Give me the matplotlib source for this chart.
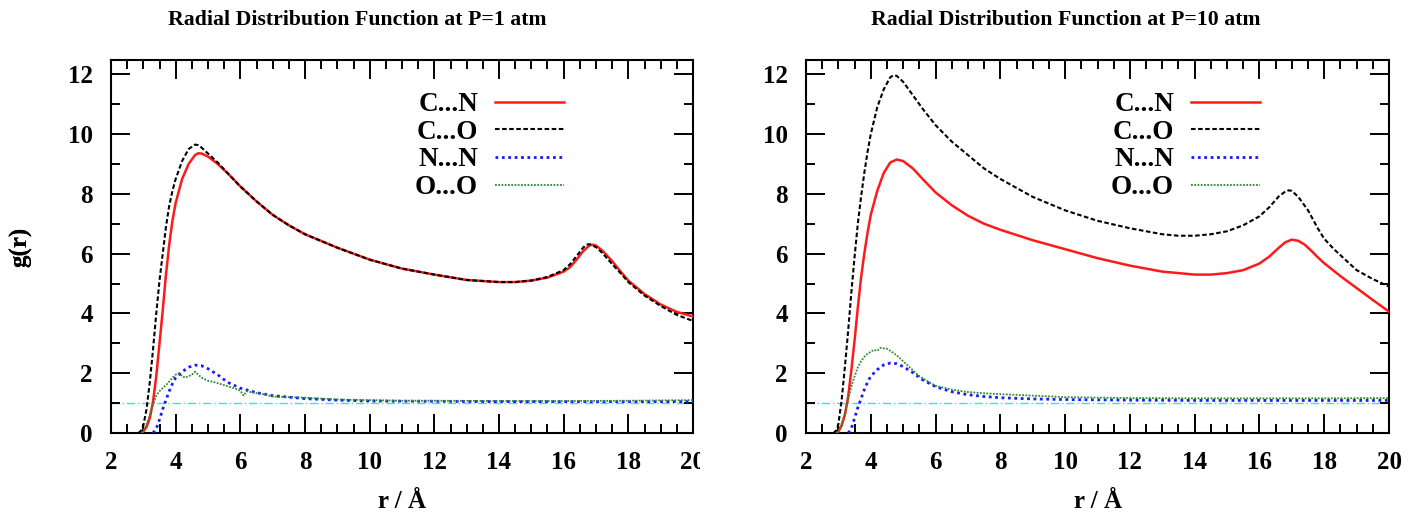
import matplotlib
matplotlib.use("Agg")
import matplotlib.pyplot as plt
from matplotlib.ticker import MultipleLocator
from matplotlib.transforms import Bbox, TransformedBbox

# ---------------- data ----------------
titles = ["Radial Distribution Function at P=1 atm",
          "Radial Distribution Function at P=10 atm"]
series_labels = ["C...N", "C...O", "N...N", "O...O"]
x_ticks = [2, 4, 6, 8, 10, 12, 14, 16, 18, 20]
y_ticks = [0, 2, 4, 6, 8, 10, 12]

# P = 1 atm
r_cn_1 = [2.95, 3.0, 3.1, 3.2, 3.3, 3.4, 3.5, 3.6, 3.7, 3.8, 3.9, 4.0, 4.2, 4.4, 4.6, 4.7, 4.8,
          5.0, 5.3, 5.6, 6.0, 6.5, 7.0, 7.5, 8.0, 9.0, 10.0, 11.0, 12.0, 13.0, 14.0, 14.5,
          15.0, 15.5, 16.0, 16.2, 16.4, 16.6, 16.8, 16.9, 17.0, 17.2, 17.5, 17.8, 18.0, 18.5,
          19.0, 19.5, 20.0]
g_cn_1 = [0.0, 0.05, 0.2, 0.5, 1.05, 1.9, 3.0, 4.1, 5.3, 6.3, 7.1, 7.7, 8.5, 9.0, 9.3, 9.36, 9.35,
          9.25, 9.0, 8.7, 8.25, 7.75, 7.3, 6.95, 6.65, 6.2, 5.8, 5.5, 5.3, 5.12, 5.05, 5.05,
          5.1, 5.2, 5.4, 5.55, 5.8, 6.08, 6.28, 6.3, 6.27, 6.1, 5.75, 5.35, 5.1, 4.65,
          4.3, 4.05, 3.9]

r_co_1 = [2.85, 2.95, 3.0, 3.1, 3.2, 3.3, 3.4, 3.5, 3.6, 3.7, 3.8, 3.9, 4.0, 4.2, 4.4, 4.6, 4.7,
          4.8, 5.0, 5.3, 5.6, 6.0, 6.5, 7.0, 7.5, 8.0, 9.0, 10.0, 11.0, 12.0, 13.0, 14.0, 14.5,
          15.0, 15.5, 16.0, 16.2, 16.4, 16.6, 16.7, 16.8, 17.0, 17.2, 17.5, 17.8, 18.0, 18.5,
          19.0, 19.5, 20.0]
g_co_1 = [0.0, 0.1, 0.25, 0.8, 1.7, 2.8, 4.0, 5.1, 6.0, 6.9, 7.6, 8.1, 8.5, 9.1, 9.5, 9.65, 9.63,
          9.55, 9.35, 9.05, 8.7, 8.25, 7.75, 7.3, 6.95, 6.65, 6.2, 5.8, 5.5, 5.3, 5.12, 5.05, 5.05,
          5.1, 5.22, 5.45, 5.65, 5.92, 6.2, 6.3, 6.32, 6.22, 6.02, 5.65, 5.3, 5.05, 4.6,
          4.25, 3.95, 3.75]

r_nn_1 = [3.3, 3.4, 3.5, 3.6, 3.7, 3.8, 3.9, 4.0, 4.2, 4.4, 4.6, 4.8, 5.0, 5.3, 5.6, 6.0, 6.5,
          7.0, 7.5, 8.0, 9.0, 10.0, 12.0, 14.0, 16.0, 18.0, 20.0]
g_nn_1 = [0.0, 0.15, 0.45, 0.8, 1.1, 1.4, 1.65, 1.85, 2.05, 2.2, 2.27, 2.25, 2.15, 1.95, 1.7, 1.5, 1.35,
          1.25, 1.2, 1.15, 1.1, 1.07, 1.06, 1.05, 1.05, 1.05, 1.05]

r_oo_1 = [2.95, 3.0, 3.1, 3.2, 3.3, 3.4, 3.5, 3.6, 3.7, 3.8, 3.9, 4.0, 4.1, 4.2, 4.3, 4.4, 4.5,
          4.6, 4.7, 4.8, 4.9, 5.0, 5.2, 5.5, 5.8, 6.0, 6.1, 6.2, 6.4, 6.7, 7.0, 7.5, 8.0, 9.0,
          10.0, 11.0, 12.0, 14.0, 16.0, 18.0, 20.0]
g_oo_1 = [0.0, 0.05, 0.3, 0.6, 0.95, 1.25, 1.4, 1.5, 1.6, 1.72, 1.85, 1.95, 2.0, 1.9, 1.85, 1.9, 1.95,
          2.05, 1.95, 1.85, 1.8, 1.75, 1.7, 1.6, 1.5, 1.42, 1.25, 1.4, 1.35, 1.3, 1.22, 1.2, 1.18, 1.12,
          1.1, 1.08, 1.08, 1.07, 1.07, 1.08, 1.1]

# P = 10 atm
r_cn_10 = [2.95, 3.0, 3.1, 3.2, 3.3, 3.4, 3.5, 3.6, 3.7, 3.8, 3.9, 4.0, 4.2, 4.4, 4.6, 4.8, 5.0,
           5.3, 5.6, 6.0, 6.5, 7.0, 7.5, 8.0, 9.0, 10.0, 11.0, 12.0, 13.0, 14.0, 14.5, 15.0,
           15.5, 16.0, 16.3, 16.6, 16.8, 17.0, 17.2, 17.4, 17.6, 17.8, 18.0, 18.5, 19.0, 19.5, 20.0]
g_cn_10 = [0.0, 0.05, 0.25, 0.6, 1.2, 2.1, 3.1, 4.2, 5.2, 6.0, 6.7, 7.3, 8.1, 8.7, 9.05, 9.15, 9.1,
           8.85, 8.5, 8.05, 7.62, 7.27, 7.0, 6.8, 6.45, 6.15, 5.85, 5.6, 5.4, 5.3, 5.3, 5.35,
           5.45, 5.67, 5.9, 6.2, 6.38, 6.47, 6.43, 6.3, 6.1, 5.88, 5.68, 5.25, 4.85, 4.45, 4.06]

r_co_10 = [2.85, 2.95, 3.0, 3.1, 3.2, 3.3, 3.4, 3.5, 3.6, 3.7, 3.8, 3.9, 4.0, 4.2, 4.4, 4.6, 4.7,
           4.8, 5.0, 5.3, 5.6, 6.0, 6.5, 7.0, 7.5, 8.0, 9.0, 10.0, 11.0, 12.0, 13.0, 13.5, 14.0,
           14.5, 15.0, 15.5, 16.0, 16.3, 16.6, 16.8, 16.9, 17.0, 17.2, 17.5, 17.8, 18.0, 18.3,
           18.6, 19.0, 19.5, 20.0]
g_co_10 = [0.0, 0.1, 0.3, 1.1, 2.2, 3.4, 4.7, 5.9, 7.0, 7.9, 8.7, 9.4, 10.0, 10.9, 11.5, 11.9, 11.97,
           11.95, 11.75, 11.3, 10.85, 10.3, 9.75, 9.3, 8.85, 8.5, 7.9, 7.45, 7.1, 6.85, 6.65, 6.6, 6.6,
           6.65, 6.75, 6.95, 7.25, 7.55, 7.92, 8.08, 8.12, 8.1, 7.9, 7.45, 6.85, 6.5, 6.15,
           5.85, 5.45, 5.15, 4.9]

r_nn_10 = [3.3, 3.4, 3.5, 3.6, 3.7, 3.8, 3.9, 4.0, 4.2, 4.4, 4.6, 4.8, 5.0, 5.3, 5.6, 6.0, 6.5,
           7.0, 7.5, 8.0, 9.0, 10.0, 12.0, 14.0, 16.0, 18.0, 20.0]
g_nn_10 = [0.0, 0.15, 0.5, 0.85, 1.15, 1.45, 1.7, 1.9, 2.12, 2.28, 2.34, 2.32, 2.22, 2.02, 1.78, 1.55, 1.38,
           1.28, 1.22, 1.18, 1.14, 1.12, 1.1, 1.09, 1.09, 1.09, 1.09]

r_oo_10 = [2.95, 3.0, 3.1, 3.2, 3.3, 3.4, 3.5, 3.6, 3.7, 3.8, 3.9, 4.0, 4.1, 4.2, 4.3, 4.4, 4.5,
           4.6, 4.8, 5.0, 5.2, 5.5, 5.8, 6.0, 6.5, 7.0, 7.5, 8.0, 9.0, 10.0, 12.0, 14.0, 16.0,
           18.0, 20.0]
g_oo_10 = [0.0, 0.05, 0.3, 0.65, 1.1, 1.55, 1.9, 2.2, 2.4, 2.55, 2.65, 2.72, 2.78, 2.75, 2.85, 2.83, 2.82,
           2.75, 2.6, 2.4, 2.2, 1.9, 1.7, 1.58, 1.45, 1.37, 1.33, 1.3, 1.25, 1.2, 1.17, 1.16, 1.16,
           1.16, 1.17]

ideal_g = 1.0

panels = [
    [(r_cn_1, g_cn_1), (r_co_1, g_co_1), (r_nn_1, g_nn_1), (r_oo_1, g_oo_1)],
    [(r_cn_10, g_cn_10), (r_co_10, g_co_10), (r_nn_10, g_nn_10), (r_oo_10, g_oo_10)],
]

# ---------------- styles ----------------
FONT = "Liberation Serif"
plt.rcParams["font.family"] = [FONT, "DejaVu Serif"]
plt.rcParams["font.weight"] = "bold"

styles = [
    dict(color="#ff1a1a", lw=1.8, ls="-"),
    dict(color="#000000", lw=1.5, ls=(0, (2.2, 1.2))),
    dict(color="#1a1aff", lw=2.0, ls=(0, (1, 1.3))),
    dict(color="#2e8b2e", lw=1.3, ls=(0, (1, 0.8))),
]

W, H = 1420, 518
fig = plt.figure(figsize=(W / 100, H / 100), dpi=100)

ax_px = [(111, 693), (806, 1389)]
top_px, bot_px = 60, 433
title_cx = [357, 1066]

for i, (x0, x1) in enumerate(ax_px):
    ax = fig.add_axes([x0 / W, (H - bot_px) / H, (x1 - x0) / W, (bot_px - top_px) / H])
    ax.axhline(ideal_g, color="#3fe0e0", lw=1.0, ls=(0, (6, 2, 1, 2)), zorder=1)
    for (r, g), lab, st in zip(panels[i], series_labels, styles):
        ax.plot(r, g, label=lab, color=st["color"], lw=st["lw"], ls=st["ls"], zorder=3)
    ax.set_xlim(2, 20)
    ax.set_ylim(0, 12.48)
    ax.set_xticks(x_ticks)
    ax.set_yticks(y_ticks)
    ax.xaxis.set_minor_locator(MultipleLocator(0.5))
    ax.yaxis.set_minor_locator(MultipleLocator(1))
    ax.tick_params(which="both", direction="in", top=True, right=True, width=1.4, color="black")
    ax.tick_params(which="major", length=13.5, labelsize=18, pad=13)
    ax.tick_params(which="minor", length=6.5)
    for lbl in ax.get_xticklabels() + ax.get_yticklabels():
        lbl.set_fontweight("bold")
    for sp in ax.spines.values():
        sp.set_linewidth(1.5)
    ax.set_xlabel("r / Å", fontsize=18, fontweight="bold")
    ax.set_ylabel("g(r)", fontsize=18, fontweight="bold")
    ax.xaxis.set_label_coords(0.5, (bot_px - 490) / (bot_px - top_px))
    ax.yaxis.set_label_coords((32 - x0) / (x1 - x0), 0.5)
    leg_x = (x1 - 129 - x0) / (x1 - x0)
    leg_y = (bot_px - 92) / (bot_px - top_px)
    ax.legend(loc="upper right", bbox_to_anchor=(leg_x, leg_y), frameon=False,
              markerfirst=False, handlelength=2.55, handletextpad=0.62,
              labelspacing=0.1, borderpad=0, borderaxespad=0,
              prop={"family": FONT, "weight": "bold", "size": 19.5})
    fig.text(title_cx[i] / W, 1 - 20 / H, titles[i], ha="center", va="center",
             fontsize=15.7, fontweight="bold")
    if i == 0:
        # the "20" label of the left panel is cut by the panel edge in the reference
        fig.canvas.draw()
        clip = TransformedBbox(Bbox([[0, 0], [700 / W, 1]]), fig.transFigure)
        last = ax.get_xticklabels()[-1]
        last.set_clip_box(clip)
        last.set_clip_on(True)

fig.savefig("out.png", dpi=100)
